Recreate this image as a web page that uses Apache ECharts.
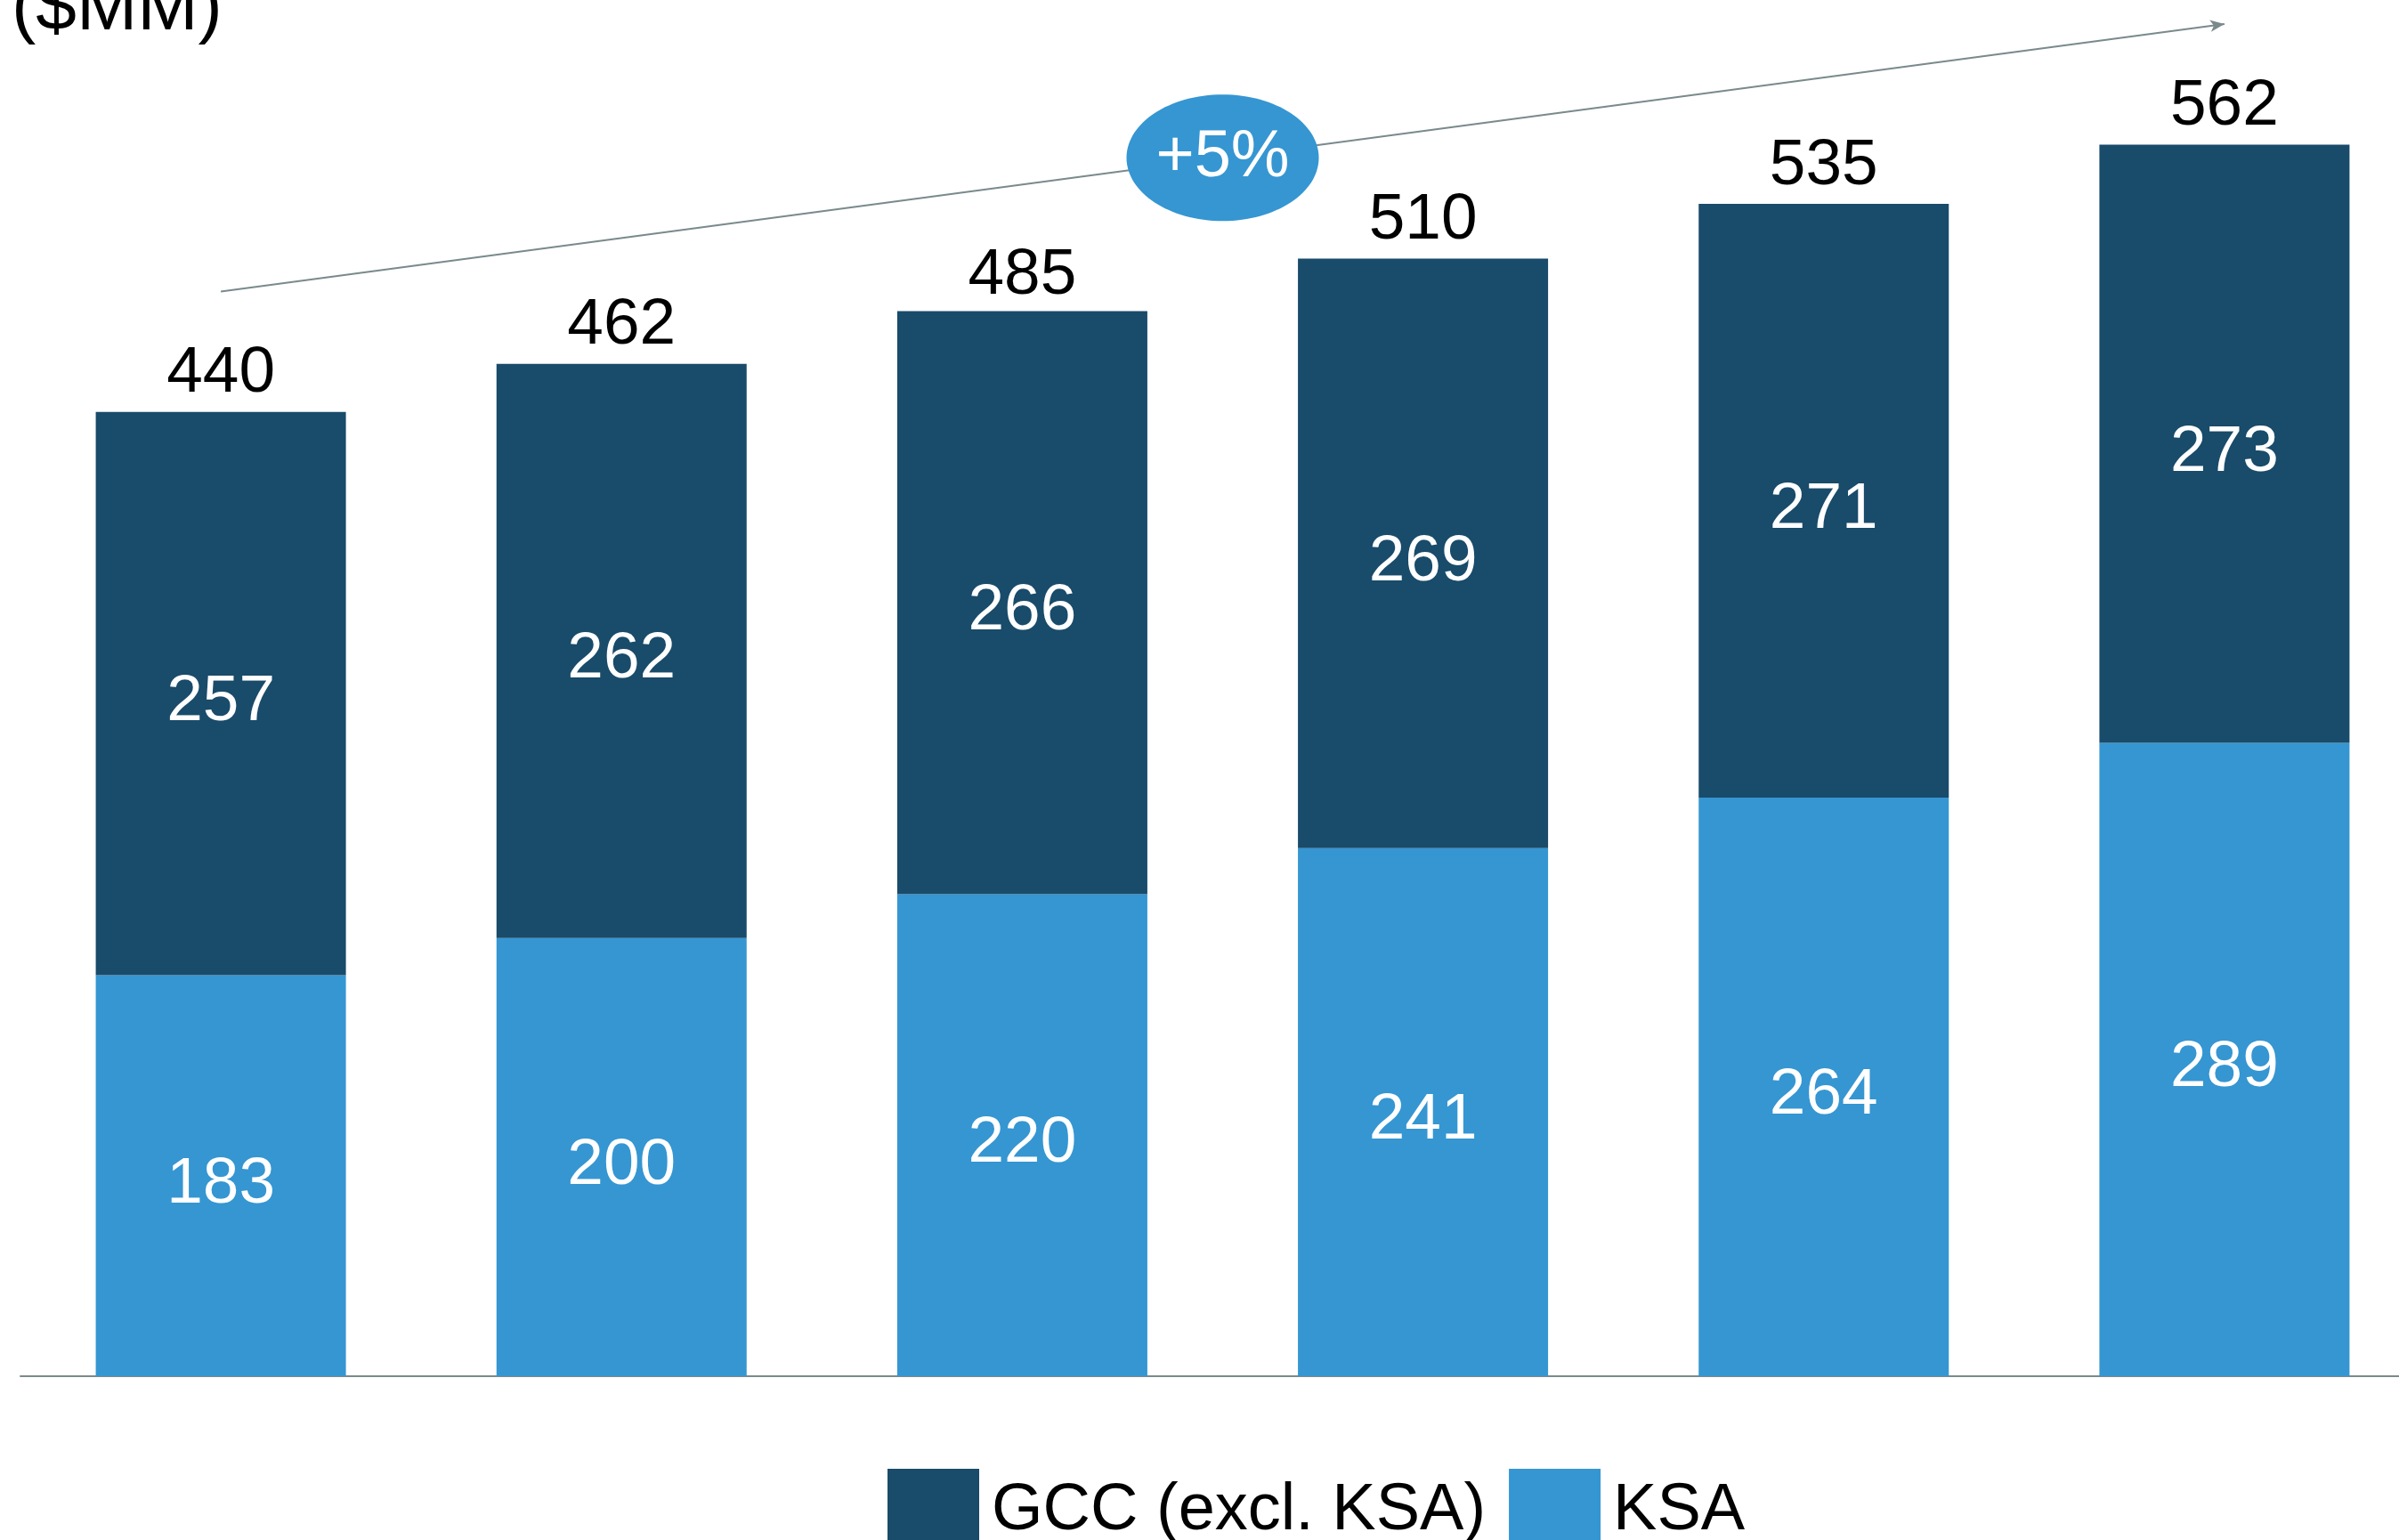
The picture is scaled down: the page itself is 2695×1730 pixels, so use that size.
<!DOCTYPE html>
<html><head><meta charset="utf-8">
<script src="https://cdn.jsdelivr.net/npm/echarts@6/dist/echarts.min.js"></script>
<style>html,body{margin:0;padding:0;background:#fff}#c{width:2695px;height:1730px}</style>
</head><body><div id="c"></div>
<script>
const categories = ['Y1', 'Y2', 'Y3', 'Y4', 'Y5', 'Y6'];
const ksa = [183, 200, 220, 241, 264, 289];
const gccExKsa = [257, 262, 266, 269, 271, 273];
const totals = [440, 462, 485, 510, 535, 562];
const seriesNames = ['GCC (excl. KSA)', 'KSA'];
const unitLabel = '($MM)';
const cagrLabel = '+5%';
const trendStart = 495;
const trendEnd = 617;

const DARK = '#194b6a', LIGHT = '#3596d2', GREY = '#7a8a8c';
const FONT = '"Liberation Sans", Arial, sans-serif';

const chart = echarts.init(document.getElementById('c'), null, {renderer: 'canvas'});
chart.setOption({
  animation: false,
  backgroundColor: '#ffffff',
  textStyle: {fontFamily: FONT},
  title: {
    text: unitLabel, left: 8, top: -36,
    textStyle: {fontSize: 82, fontWeight: 'normal', color: '#000', fontFamily: FONT}
  },
  legend: {
    data: seriesNames,
    left: 997, top: 1650, padding: 0,
    itemWidth: 103, itemHeight: 96, itemGap: 26,
    icon: 'rect',
    textStyle: {fontSize: 74, color: '#000', fontFamily: FONT, padding: [0, 0, 0, 9]}
  },
  grid: {left: 23, top: 0, width: 2701, height: 1546, containLabel: false, outerBoundsMode: 'none'},
  xAxis: {
    type: 'category', data: categories,
    axisLine: {lineStyle: {color: GREY, width: 2}},
    axisTick: {show: false}, axisLabel: {show: false}, splitLine: {show: false}
  },
  yAxis: {
    type: 'value', min: 0, max: 628, show: false, splitLine: {show: false}
  },
  series: [
    {
      name: 'KSA', type: 'bar', stack: 'total', data: ksa, barWidth: 281,
      itemStyle: {color: LIGHT},
      label: {show: true, position: 'inside', offset: [0, 10], color: '#fff', fontSize: 73, fontFamily: FONT}
    },
    {
      name: 'GCC (excl. KSA)', type: 'bar', stack: 'total', data: gccExKsa, barWidth: 281,
      itemStyle: {color: DARK},
      label: {show: true, position: 'inside', offset: [0, 10], color: '#fff', fontSize: 73, fontFamily: FONT}
    },
    {
      name: 'Total', type: 'bar', data: totals, barWidth: 281, barGap: '-100%',
      itemStyle: {color: 'rgba(0,0,0,0)'}, silent: true, z: 1,
      label: {show: true, position: 'top', distance: 6, color: '#000', fontSize: 73, fontFamily: FONT},
      markLine: {
        silent: true, symbol: ['none', 'arrow'], symbolSize: [10, 16],
        lineStyle: {color: GREY, width: 2, type: 'solid'},
        label: {show: false},
        data: [[{coord: [categories[0], trendStart]}, {coord: [categories[5], trendEnd]}]]
      }
    }
  ]
});

const p0 = chart.convertToPixel({gridIndex: 0}, [categories[0], trendStart]);
const p1 = chart.convertToPixel({gridIndex: 0}, [categories[5], trendEnd]);
const cx = (p0[0] + p1[0]) / 2, cy = (p0[1] + p1[1]) / 2;
chart.setOption({
  graphic: [
    {type: 'ellipse', shape: {cx: cx, cy: cy, rx: 108, ry: 71}, style: {fill: LIGHT}, z: 100},
    {type: 'text', x: cx, y: cy, z: 101,
     style: {text: cagrLabel, fill: '#fff', fontSize: 74, fontFamily: FONT, align: 'center', verticalAlign: 'middle'}}
  ]
});
</script></body></html>
